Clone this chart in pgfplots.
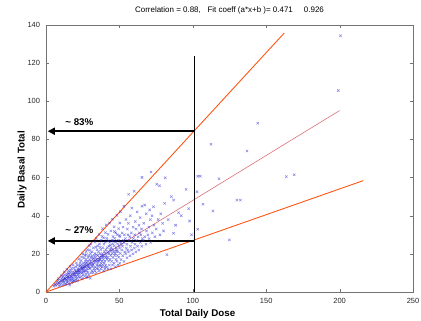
\documentclass[border=0pt]{standalone}
\usepackage{fontspec}
\setmainfont{Liberation Sans}
\usepackage{pgfplots}
\pgfplotsset{compat=1.18}
\usetikzlibrary{arrows.meta}
\definecolor{orangeline}{RGB}{255,85,20}
\definecolor{fitline}{RGB}{220,110,120}
\definecolor{ptblue}{RGB}{40,40,215}
\begin{document}
\begin{tikzpicture}
\path[use as bounding box] (-46bp,-29bp) rectangle (375bp,292bp);
\begin{axis}[
 at={(0,0)}, anchor=south west,
 scale only axis, width=367bp, height=267bp,
 xmin=0, xmax=250, ymin=0, ymax=140,
 xtick={0,50,...,250}, ytick={0,20,...,140},
 tick align=inside, major tick length=3bp,
 axis line style={black!55}, tick style={black!55},
 tick label style={font=\fontsize{7.5}{9}\selectfont, text=black!85},
 xticklabel style={yshift=-2.5bp},
 yticklabel style={xshift=-2.5bp},
 /pgf/number format/assume math mode=true,
 xlabel={Total Daily Dose},
 xlabel style={at={(axis description cs:0.413,-0.0805)}, anchor=center, font=\fontsize{9.8}{11}\selectfont\bfseries},
 ylabel={Daily Basal Total},
 ylabel style={at={(axis description cs:-0.0654,0.457)}, anchor=center, font=\fontsize{9.8}{11}\selectfont\bfseries},
 title={Correlation = 0.88,\ \ \ Fit coeff (a*x+b )= 0.471\ \ \ \ \ 0.926},
 title style={at={(axis description cs:0.5,1)}, anchor=base, yshift=6.3bp, font=\fontsize{8}{9}\selectfont},
 clip=false,
]
\addplot[only marks, mark=x, mark size=1.7pt, color=ptblue, mark options={opacity=0.55, line width=0.55pt}] coordinates {
(5.3,3)(6.2,4.1)(6.8,3.4)(7.4,5.2)(7.9,4)(8.3,6.1)(8.8,4.6)(9.4,5.4)(9.7,4.1)(10.2,6)(10.6,7.2)(11.1,5)(11.5,6.6)(11.8,8.1)(12.3,5.1)(12.1,6.2)(12.7,7.4)(12.4,9.1)(13.2,4.4)(13.6,6.1)(13.1,7.2)(13.8,8.6)(14.3,5.1)(14.1,6.4)(14.7,7.1)(14.4,9.2)(14.9,10.1)(15.2,5.6)(15.6,7.1)(15.1,8.2)(15.8,9.4)(15.4,11.2)(16.2,3.6)(16.5,6.1)(16.1,7.6)(16.8,8.4)(16.4,10.2)(17.3,6.2)(17.6,7.1)(17.1,8.1)(17.8,9.6)(17.4,12.3)(18.2,5.6)(18.6,7.2)(18.1,8.4)(18.8,9.1)(18.4,10.6)(18.3,14.2)(19.2,6.1)(19.7,8.2)(19.1,9.2)(19.5,10.1)(19.8,11.4)(20.2,6.6)(20.6,8.1)(20.1,9.2)(20.8,10.2)(20.4,11.1)(20.3,13.2)(20.7,15.3)
(8.5,7)(10.5,8.5)(12.5,10.5)(14.2,12)(16.3,13.5)(9.2,3.2)(11.4,3.6)(13.5,4)(15.5,4.5)(17.5,5)(19.4,5.6)(18.9,12.6)(16.9,11.3)(14.6,8)(12.9,6.8)(11.2,5.9)
(21.3,7.1)(21.6,9.2)(21.1,10.1)(21.8,12.2)(21.4,14.1)(22.2,8.1)(22.7,9.6)(22.1,11.2)(22.5,12.1)(22.9,13.6)(22.3,17.2)(23.2,7.6)(23.6,10.2)(23.1,11.1)(23.8,12.6)(23.4,15.2)(24.3,8.2)(24.7,10.1)(24.1,11.6)(24.5,13.2)(24.8,14.1)(24.2,18.3)(25.3,9.1)(25.6,10.6)(25.1,12.2)(25.8,13.1)(25.4,15.2)(25.2,20.1)(26.3,8.2)(26.7,11.1)(26.1,12.6)(26.5,14.2)(26.9,16.1)(26.4,19.2)(27.2,9.6)(27.6,11.2)(27.1,13.1)(27.8,15.2)(27.4,17.1)(27.3,21.2)(28.2,8.1)(28.6,10.2)(28.1,12.1)(28.8,14.2)(28.4,16.1)(28.7,18.2)(28.3,22.2)(29.2,9.1)(29.6,12.2)(29.1,13.1)(29.8,15.2)(29.4,19.1)(29.5,24.2)(30.2,7.2)(30.6,10.1)(30.1,12.6)(30.8,14.1)(30.4,16.2)(30.7,18.1)(30.3,20.2)(30.5,25.1)
(21.9,11)(22.6,10.4)(23.3,13.9)(24.6,12.4)(25.5,11.3)(26.2,13.4)(26.8,15.1)(27.7,14)(28.5,13.3)(29.3,14.4)(23.9,16.5)(25.9,17.8)(27.5,19.6)(29.9,21.8)(21.5,5.9)(24.9,6.8)(27.9,7.6)(29.7,16.8)
(31.3,11.1)(31.6,13.2)(31.1,15.1)(31.8,17.2)(31.4,21.1)(32.2,10.1)(32.7,12.2)(32.1,14.6)(32.5,16.1)(32.8,19.2)(32.3,23.1)(33.2,11.2)(33.6,13.1)(33.1,15.2)(33.8,18.1)(33.4,20.2)(33.3,26.1)(34.3,10.2)(34.7,14.1)(34.1,16.2)(34.5,17.1)(34.8,22.2)(34.2,28.1)(35.3,12.1)(35.6,13.6)(35.1,15.2)(35.8,17.1)(35.4,19.2)(35.7,21.1)(35.2,24.2)(36.3,11.1)(36.7,14.2)(36.1,16.1)(36.5,18.2)(36.8,20.1)(36.4,25.2)(36.2,30.1)(37.3,12.2)(37.6,15.1)(37.1,17.2)(37.8,19.1)(37.4,22.2)(37.5,27.1)(38.2,13.1)(38.6,14.2)(38.1,16.1)(38.8,18.2)(38.4,20.1)(38.7,23.2)(38.3,29.1)(38.5,33.2)(39.2,11.1)(39.6,15.2)(39.1,17.1)(39.8,21.2)(39.4,25.1)(40.2,12.2)(40.6,14.1)(40.1,16.2)(40.8,18.1)(40.4,20.2)(40.7,22.1)(40.3,26.2)(40.5,31.1)(40.9,35.2)
(31.9,14)(32.4,17.7)(33.7,16.4)(34.4,19.5)(35.5,16.3)(36.6,17)(37.7,18.3)(38.9,19.4)(39.5,18.6)(31.2,18.8)(33.9,23.6)(36.9,23.4)(39.3,28.4)(34.6,12.3)(37.2,13.5)(39.9,13.2)
(41.3,13.1)(41.6,17.2)(41.1,19.1)(41.8,23.2)(41.4,28.1)(42.2,12.1)(42.7,16.2)(42.1,18.1)(42.5,21.2)(42.8,24.1)(42.3,30.2)(43.2,14.1)(43.6,17.2)(43.1,20.1)(43.8,22.2)(43.4,26.1)(43.3,36.2)(44.3,12.2)(44.7,16.1)(44.1,19.2)(44.5,23.1)(44.8,27.2)(44.2,32.1)(45.3,14.2)(45.6,18.1)(45.1,20.2)(45.8,22.1)(45.4,25.2)(45.7,29.1)(45.2,38.2)(46.3,15.1)(46.7,19.2)(46.1,21.1)(46.5,24.2)(46.8,28.1)(46.4,34.2)(47.3,13.2)(47.6,17.1)(47.1,20.2)(47.8,23.1)(47.4,26.2)(47.5,31.1)(48.2,16.1)(48.6,19.2)(48.1,22.1)(48.8,25.2)(48.4,30.1)(48.3,40.2)(49.2,14.1)(49.6,18.2)(49.1,21.1)(49.8,24.2)(49.4,27.1)(49.5,33.2)(50.2,15.1)(50.6,20.2)(50.1,23.1)(50.8,26.2)(50.4,29.1)(50.3,36.2)(50.7,42.1)
(41.9,20.6)(43.9,24.5)(45.9,26.7)(47.9,21.4)(49.9,29.6)(42.4,26.8)(44.4,21.7)(46.6,31.7)
(51.2,17)(51.6,22)(51.4,25)(51.8,31)(52.3,19)(52.1,24)(52.7,27)(52.5,34)(53.2,16)(53.6,21)(53.1,26)(53.4,30)(53,45)(54.3,20)(54.7,23)(54.1,28)(54.5,38)(55.2,18)(55.6,22)(55.1,25)(55.8,30)(55.4,33)(56.2,21)(56.6,27)(56.1,36)(56.3,51.2)(57.2,19)(57.6,24)(57.1,29)(57.4,40)(58.3,22)(58.7,26)(58.1,31)(58.5,44)(59.2,20)(59.6,28)(59.4,34)(60.2,23)(60.6,25)(60.4,30)(60.8,37)(60.1,52.8)(61.2,21)(61.6,27)(61.4,33)(62.3,24)(62.7,29)(62.1,42)(63.2,22)(63.6,31)(63.4,35)(64.3,26)(64.7,30)(64.1,39)(65.2,24)(65.6,28)(65.1,33)(65.4,45)(65.4,60.1)
(66.2,27)(66.6,36)(67.3,29)(67.2,45.6)(68.1,25)(68.5,32)(68.3,41)(69.4,30)(70.2,28)(70.1,34)(70.6,43)(71.3,26)(71.1,38)(71.5,62.9)(72.4,31)(72.2,40)(73.3,44.7)(73.6,35)(74.2,29)(75.1,33)(75.5,56.5)(76.4,38)(77.3,55.7)(77.6,30)(78.2,41)(79.4,36)(80.1,32)(80.8,46.5)(81.3,59.9)(82.4,19.6)(83.2,38)(85.4,50)(86.9,48.2)(86.9,30.8)(88.3,35)(90.3,41.6)(92.2,40)(95.4,53.8)(97.2,43.7)(97.8,37.2)(99.1,30)
(102.9,52.6)(103.3,60.7)(105,60.7)(103.3,32.9)(107,46)(113.7,42.5)(117.8,59.4)(112.4,77.5)(124.9,27.3)(130,48.2)(132.4,48.2)(136.9,73.9)(144.2,88.5)(163.7,60.5)(169.1,61.5)(199.1,105.6)(200.6,134.4)
};
\addplot[fitline, line width=0.6pt] coordinates {(5,3.28) (200,95.13)};
\addplot[orangeline, line width=0.9pt] coordinates {(0,0) (162.3,135.8)};
\addplot[orangeline, line width=0.9pt] coordinates {(0,0) (216.1,58.4)};
\addplot[black, line width=1.4pt] coordinates {(101,0) (101,124)};
\addplot[black, line width=1.6pt, -{Triangle[length=7bp,width=7bp]}] coordinates {(101,84.3) (1.2,84.3)};
\addplot[black, line width=1.6pt, -{Triangle[length=7bp,width=7bp]}] coordinates {(101,26.8) (1.2,26.8)};
\node[font=\fontsize{9.8}{11}\selectfont\bfseries] at (axis cs:22.7,89) {\textasciitilde{} 83\%};
\node[font=\fontsize{9.8}{11}\selectfont\bfseries] at (axis cs:22.7,32.5) {\textasciitilde{} 27\%};
\end{axis}
\end{tikzpicture}
\end{document}
